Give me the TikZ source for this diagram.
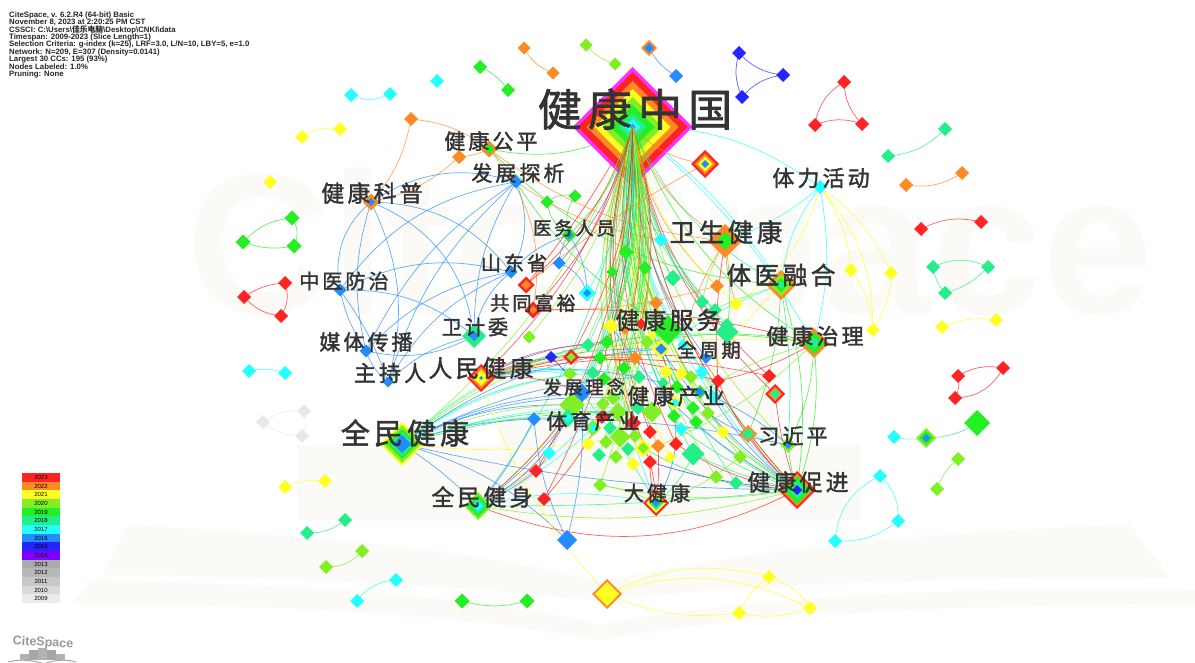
\documentclass[tikz,border=0pt]{standalone}
\usepackage{fontspec}
\setmainfont{Liberation Sans}
\newfontfamily\cjk{Noto Sans CJK SC}
\newfontfamily\cjklab[FakeBold=1.6,LetterSpace=14]{Noto Sans CJK SC}
\usetikzlibrary{shapes.geometric,backgrounds}
\pgfdeclarelayer{wm}
\pgfsetlayers{wm,background,main}
\definecolor{yA}{HTML}{FF2424}
\definecolor{yB}{HTML}{FF8A24}
\definecolor{yC}{HTML}{FFFF24}
\definecolor{yD}{HTML}{80F024}
\definecolor{yE}{HTML}{24EE24}
\definecolor{yF}{HTML}{24EE8C}
\definecolor{yG}{HTML}{24FFFF}
\definecolor{yH}{HTML}{248CFF}
\definecolor{yI}{HTML}{2424FF}
\definecolor{yJ}{HTML}{FF30FF}
\definecolor{yK}{HTML}{8000FF}
\definecolor{gA}{HTML}{E8E8E8}
\definecolor{wmc}{HTML}{FCFAF6}
\tikzset{
  dm/.style={diamond,aspect=1,inner sep=0pt,outer sep=0pt,draw=none,fill=#1},
  edg/.style={draw=#1,line width=0.7pt,opacity=0.72},
  lab/.style={inner sep=0pt,text=black!80,font=\cjklab},
  hdr/.style={inner sep=0pt,anchor=west,font=\fontsize{7.8}{8}\selectfont\bfseries,text=black!85},
  swt/.style={inner sep=0pt,outer sep=0pt,minimum width=38pt,minimum height=8.7pt,fill=#1,font=\fontsize{6}{6}\selectfont,text=black}
}
\def\kk{1}
% name, x, y, rings r/colour from the outside in
\newcommand{\nd}[4]{\coordinate (#1) at (#2,#3);
  \foreach \rr/\cc [count=\ii] in {#4}{\node[dm=\cc,minimum width={2*\rr*\kk pt},minimum height={2*\rr*\kk pt}] (#1-\ii) at (#2,#3) {};}}
\newcommand{\ed}[4]{\draw[edg=#4] (#1) to[#3] (#2);}
\newcommand{\lb}[5]{\pgfmathsetmacro{\fsz}{#4*0.88}\node[lab] (#1) at (#2,#3) {\fontsize{\fsz}{#4}\selectfont #5};}
\newcommand{\fanR}{\foreach \t/\c in {wsjk/yB,sa/yB,tyrh/yF,jkzl/yE,jkcj/yE,jkcj/yA,sb/yA,sc/yA,xjp/yF,sd2/yD,djk/yG,ca/yG,ce/yF,cf/yB,cg/yB,ch/yF,ci/yC,cj/yF,co/yF,cp/yF,cn/yE,cs/yD,cu/yC,cv/yG,db/yH,dc/yG,dd/yC,de/yC,df/yD,dg/yA,dh/yF,dj/yF,dk/yE,dl/yE,dm2/yG,ds/yF,dt/yD,du/yC,dv/yE,dw/yE,dx/yD,dy/yE,eh/yA,ei/yG,ej/yC,en/yC,eo/yB,ep/yA,et/yC,eu/yF,ev/yA,ex/yD,fb/yD,fc/yF,ec/yA,eg/yD,em/yF,ew/yC}
  {\draw[edg=\c] (hub) to[bend right=18] (\t);}}
\newcommand{\fanL}{\foreach \t/\c in {ywry/yE,cb/yE,cc/yE,cd/yE,sg/yG,sf/yA,gtfy/yA,se/yH,ck/yC,cl/yA,cm/yB,cq/yF,cr/yE,cw/yE,cx/yB,cy/yE,cz/yF,da/yD,di/yE,dn/yH,do/yD,dp/yD,dq/yD,dr/yD,ea/yF,eb/yA,ed2/yD,ee/yF,ef/yD,ek/yC,el/yD,eq/yG,er/yF,es/yD,ey/yA,ez/yD,fa/yA,sj/yD,sl/yA,qmjs/yF,rmjk/yA,qmjk/yD}
  {\draw[edg=\c] (hub) to[bend left=14] (\t);}}
\begin{document}
\begin{tikzpicture}[x=1pt,y=-1pt]
\useasboundingbox (0,0) rectangle (1195,663);
\begin{pgfonlayer}{wm}
\fill[white] (0,0) rectangle (1195,663);
\node[inner sep=0pt,text=wmc] (wmtext) at (670,262) {\fontsize{200}{200}\selectfont\bfseries CiteSpace};
\fill[wmc] (297,445) rectangle (860,520);
\fill[wmc] (500,378) rectangle (775,445);
\fill[wmc] (103,575) -- (128,525) .. controls (300,535) and (480,550) .. (600,582) .. controls (750,550) and (950,530) .. (1130,525) -- (1170,578) .. controls (950,575) and (750,585) .. (600,600) .. controls (450,585) and (250,575) .. (103,575) -- cycle;
\fill[wmc] (72,604) -- (92,580) .. controls (300,585) and (480,595) .. (600,625) .. controls (750,595) and (1000,585) .. (1195,590) -- (1195,604) .. controls (1000,605) and (750,610) .. (600,640) .. controls (450,610) and (250,605) .. (72,604) -- cycle;
\end{pgfonlayer}

% ---- header
\node[hdr] (h1) at (9,15) {CiteSpace, v. 6.2.R4 (64-bit) Basic};
\node[hdr] (h2) at (9,22.4) {November 8, 2023 at 2:20:25 PM CST};
\node[hdr] (h3) at (9,29.8) {CSSCI: C:\textbackslash Users\textbackslash{\cjk 佳乐电脑}\textbackslash Desktop\textbackslash CNKI\textbackslash data};
\node[hdr] (h4) at (9,37.2) {Timespan: 2009-2023 (Slice Length=1)};
\node[hdr] (h5) at (9,44.6) {Selection Criteria: g-index (k=25), LRF=3.0, L/N=10, LBY=5, e=1.0};
\node[hdr] (h6) at (9,52) {Network: N=209, E=307 (Density=0.0141)};
\node[hdr] (h7) at (9,59.4) {Largest 30 CCs: 195 (93\%)};
\node[hdr] (h8) at (9,66.8) {Nodes Labeled: 1.0\%};
\node[hdr] (h9) at (9,74.2) {Pruning: None};

% ---- legend
\foreach \yr/\cc [count=\i] in {2023/yA,2022/yB,2021/yC,2020/yD,2019/yE,2018/yF,2017/yG,2016/yH,2015/yI,2014/yK,2013/black!33,2012/black!28,2011/black!22,2010/black!15,2009/black!8}
  \node[swt=\cc] (leg\i) at (41,{473+8.67*(\i-0.5)}) {\yr};

% ---- logo
\node[inner sep=0pt,text=black!40,rotate=-3] (logo) at (43,643) {\fontsize{12.5}{13}\selectfont\bfseries CiteSpace};
\fill[black!30] (20,654) rectangle (29,660);
\fill[black!35] (29,650) rectangle (38,660);
\fill[black!30] (38,648) rectangle (47,660);
\fill[black!35] (47,650) rectangle (56,660);
\fill[black!30] (56,654) rectangle (65,660);
\draw[black!35,line width=1pt] (8,662) .. controls (20,659) and (30,660) .. (42,663);
\draw[black!35,line width=1pt] (46,663) .. controls (56,660) and (66,659) .. (76,662);

% ---- peripheral nodes
\nd{pa}{524}{48}{6.5/yB} \nd{pb}{553}{73}{6.5/yB}
\nd{pc}{586}{45}{6.5/yD} \nd{pd}{615}{64}{6.5/yD}
\nd{pe}{649}{48}{8/yB,5/yH} \nd{pf}{676}{76}{7/yH}
\nd{pg}{739}{53}{7/yI} \nd{ph}{783}{75}{7/yI} \nd{pi}{742}{97}{7/yI}
\nd{pj}{844}{82}{7/yA} \nd{pk}{862}{124}{7/yA} \nd{pl}{815}{125}{7/yA}
\nd{pm}{945}{129}{7/yF} \nd{pn}{888}{156}{7/yF}
\nd{po}{962}{173}{7/yB} \nd{pp}{906}{185}{7/yB}
\nd{pq}{981}{222}{7/yA} \nd{pr}{921}{229}{7/yA}
\nd{ps}{988}{267}{7/yF} \nd{pt}{933}{267}{7/yF} \nd{pu}{945}{293}{7/yF}
\nd{pv}{996}{320}{7/yC} \nd{pw}{942}{327}{7/yC}
\nd{px}{958}{376}{7/yA} \nd{py}{1003}{368}{7/yA} \nd{pz}{955}{398}{7/yA}
\nd{qa}{977}{423}{13/yE} \nd{qb}{926}{438}{10/yD,7/yE,4/yH} \nd{qc}{894}{437}{7/yG}
\nd{qd}{958}{459}{7/yD} \nd{qe}{937}{489}{7/yD}
\nd{qf}{880}{476}{7/yG} \nd{qg}{898}{521}{7/yG} \nd{qh}{835}{541}{7/yG}
\nd{big}{607}{594}{15/yB,12/yC} \nd{qi}{769}{577}{7/yC} \nd{qj}{810}{608}{7/yC} \nd{qk}{739}{613}{7/yC}
\nd{ql}{462}{601}{7.5/yE} \nd{qm}{527}{601}{7.5/yE}
\nd{qn}{396}{580}{7/yG} \nd{qo}{357}{601}{7/yG}
\nd{qp}{362}{551}{7/yD} \nd{qq}{326}{567}{7/yD}
\nd{qr}{345}{520}{7/yF} \nd{qs}{307}{533}{7/yF}
\nd{qt}{325}{481}{7/yC} \nd{qu}{285}{487}{7/yC}
\nd{qv}{304}{411}{7/gA} \nd{qw}{302}{436}{7/gA} \nd{qx}{263}{422}{7/gA}
\nd{qy}{285}{373}{7/yG} \nd{qz}{249}{371}{7/yG}
\nd{ra}{244}{297}{7/yA} \nd{rb}{281}{316}{7/yA} \nd{rc}{285}{283}{7/yA}
\nd{rd}{292}{218}{7.5/yE} \nd{re}{294}{246}{7.5/yE} \nd{rf}{243}{242}{7.5/yE}
\nd{rg}{270}{182}{7/yC}
\nd{rh}{302}{137}{7/yC} \nd{ri}{340}{129}{7/yC}
\nd{rj}{351}{95}{7/yG} \nd{rk}{390}{94}{7/yG}
\nd{rl}{437}{81}{7/yG}
\nd{rm}{480}{67}{7/yE} \nd{rn}{508}{90}{7/yE}
\nd{ro}{411}{119}{7/yB} \nd{rp}{459}{157}{7/yB}

% ---- main nodes
\nd{hub}{632.5}{127}{60/yJ,55/yA,46/yB,38/yC,30/yD,22/yE,14/yF,8/yG,3/yH}
\nd{wsjk}{725}{241}{17/yB,9/yE}
\nd{sa}{705}{164}{14/yA,10.5/yB,7.5/yC,4/yH}
\nd{tlhd}{820}{187}{7/yG}
\nd{tyrh}{781}{285}{15/yB,11/yD,7/yE,4/yF}
\nd{jkzl}{814}{343}{15/yB,11/yE,6/yF}
\nd{sb}{775}{394}{10/yA,7/yB,5/yF}
\nd{sc}{769}{376}{7/yA}
\nd{xjp}{748}{434}{9/yB,6/yF}
\nd{sd2}{788}{445}{8/yD,4/yH}
\nd{jkcj}{797}{490}{19/yA,16/yB,14/yE,9/yF,5/yI}
\nd{djk}{656}{503}{13/yA,10/yC,7/yF,4/yH}
\nd{qmjs}{478}{506}{14/yD,11/yE,8/yF,5/yG}
\nd{qmjk}{402}{444}{22/yC,19/yD,15/yE,12/yF,9/yH}
\nd{rmjk}{481}{378}{14/yA,11/yB,8/yC,2/yH}
\nd{wjw}{474}{336}{12/yF,5/yH}
\nd{zcr}{388}{382}{5.5/yH}
\nd{mtcb}{366}{351}{6.5/yH}
\nd{zyfz}{340}{290}{6.5/yH}
\nd{jkkp}{371}{202}{8.5/yB,4/yH}
\nd{jkgp}{489}{149}{8.5/yB,5/yE}
\nd{fzfx}{516}{182}{6.5/yH}
\nd{ywry}{569}{235}{7.5/yE,4/yH}
\nd{sdsh}{511}{272}{6.5/yH}
\nd{se}{559}{263}{6.5/yH}
\nd{sf}{526}{285}{8.5/yA,5/yB}
\nd{gtfy}{533}{310}{8.5/yA,4/yB}
\nd{sg}{587}{293}{8.5/yG,4/yH}
\nd{sh}{547}{202}{6.5/yE}
\nd{si}{575}{196}{6.5/yE}
\nd{sj}{529}{337}{6.5/yD}
\nd{sk}{551}{357}{6/yI}
\nd{sl}{571}{357}{8/yA,4.5/yD}
\nd{bigb}{567}{540}{10/yH}

\def\kk{1.15}
\nd{ca}{661}{240}{6/yG} \nd{cb}{626}{252}{6.5/yE} \nd{cc}{645}{268}{6/yE} \nd{cd}{612}{272}{5/yE} \nd{ce}{673}{278}{7/yF}
\nd{cf}{717}{286}{6/yB} \nd{cg}{656}{303}{6/yB} \nd{ch}{702}{302}{6/yF} \nd{ci}{736}{304}{6/yC} \nd{cj}{715}{310}{6/yF}
\nd{ck}{611}{326}{7/yC} \nd{cl}{641}{324}{5/yA} \nd{cm}{625}{330}{4/yB} \nd{cn}{668}{330}{13/yE} \nd{co}{727}{325}{6/yF} \nd{cp}{727}{332}{10/yF}
\nd{cq}{588}{345}{6/yF} \nd{cr}{607}{342}{6/yE} \nd{cs}{647}{342}{6/yD} \nd{ct}{652}{335}{4/yC} \nd{cu}{661}{349}{8/yC,5/yH} \nd{cv}{683}{345}{5/yG}
\nd{cw}{600}{358}{6/yE} \nd{cx}{635}{358}{6/yB} \nd{cy}{624}{368}{6/yE} \nd{cz}{593}{373}{6/yF} \nd{da}{570}{374}{6/yD}
\nd{db}{706}{358}{5/yH} \nd{dc}{702}{372}{6/yG} \nd{dd}{666}{372}{6/yC} \nd{de}{681}{374}{6/yC} \nd{df}{691}{377}{6/yD} \nd{dg}{718}{381}{6/yA}
\nd{dh}{639}{377}{6/yF} \nd{di}{604}{379}{6/yE} \nd{dj}{663}{383}{5/yF} \nd{dk}{677}{387}{6/yE} \nd{dl}{700}{392}{6/yE,4/yH} \nd{dm2}{713}{397}{6/yG}
\nd{dn}{582}{393}{8/yH} \nd{do}{572}{405}{11/yD} \nd{dp}{603}{404}{6/yD} \nd{dq}{613}{398}{6/yD} \nd{dr}{618}{412}{8/yD} \nd{ds}{638}{408}{6/yF} \nd{dt}{652}{412}{9/yD}
\nd{du}{675}{403}{7/yC,4/yG} \nd{dv}{674}{416}{6/yE} \nd{dw}{693}{408}{6/yE} \nd{dx}{708}{413}{6/yD} \nd{dy}{696}{422}{6/yE}
\nd{dz}{534}{419}{6/yH} \nd{ea}{568}{418}{8/yF,4/yG} \nd{eb}{602}{417}{6/yA} \nd{ec}{633}{423}{7/yA} \nd{ed2}{593}{428}{7/yD,4/yG} \nd{ee}{610}{428}{6/yF}
\nd{ef}{620}{437}{9/yD} \nd{eg}{635}{436}{6/yD} \nd{eh}{650}{432}{6/yA} \nd{ei}{681}{429}{6/yG} \nd{ej}{723}{432}{6/yC}
\nd{ek}{588}{444}{6/yC} \nd{el}{606}{442}{6/yD} \nd{em}{628}{449}{6/yF} \nd{en}{643}{448}{8/yC,5/yD} \nd{eo}{658}{446}{6/yB} \nd{ep}{676}{444}{6/yA}
\nd{eq}{549}{453}{6/yG} \nd{er}{599}{455}{6/yF} \nd{es}{616}{457}{6/yD} \nd{et}{670}{457}{5/yC} \nd{eu}{693}{454}{10/yF} \nd{ev}{650}{462}{6/yA} \nd{ew}{633}{464}{6/yC} \nd{ex}{740}{457}{6/yD}
\nd{ey}{536}{471}{6/yA} \nd{ez}{600}{485}{6/yD} \nd{fa}{544}{499}{6/yA} \nd{fb}{716}{477}{6/yD} \nd{fc}{736}{483}{6/yF}
\nd{fd}{851}{270}{6/yC} \nd{fe}{891}{273}{6/yC} \nd{ff}{873}{330}{6/yC}

% ---- rays of the fan seen through the large node
\begin{scope}[opacity=0.28]
\clip (632.5,67) -- (692.5,127) -- (632.5,187) -- (572.5,127) -- cycle;
\fanR \fanL
\end{scope}

% ---- edges
\begin{pgfonlayer}{background}
% periphery
\ed{pa}{pb}{bend right=20}{yB}
\ed{pc}{pd}{bend right=15}{yD}
\ed{pe}{pf}{bend right=15}{yH}
\ed{pg}{ph}{bend right=20}{yI} \ed{ph}{pi}{bend right=20}{yI} \ed{pi}{pg}{bend left=20}{yI}
\ed{pj}{pk}{bend right=20}{yA} \ed{pk}{pl}{bend right=20}{yA} \ed{pl}{pj}{bend left=25}{yA}
\ed{pm}{pn}{bend left=20}{yF}
\ed{po}{pp}{bend left=20}{yB}
\ed{pq}{pr}{bend right=20}{yA}
\ed{ps}{pt}{bend right=25}{yF} \ed{pt}{pu}{bend right=15}{yF} \ed{pu}{ps}{bend right=15}{yF}
\ed{pv}{pw}{bend right=15}{yC}
\ed{px}{py}{bend left=20}{yA} \ed{py}{pz}{bend left=30}{yA} \ed{pz}{px}{bend right=20}{yA}
\ed{qa}{qb}{bend left=15}{yF} \ed{qb}{qc}{bend left=10}{yG}
\ed{qd}{qe}{bend right=15}{yD}
\ed{qf}{qg}{bend left=25}{yG} \ed{qg}{qh}{bend left=20}{yG} \ed{qh}{qf}{bend left=30}{yG}
\ed{big}{qi}{bend left=20}{yC} \ed{big}{qj}{bend left=22}{yC} \ed{big}{qk}{bend right=15}{yC}
\ed{qi}{qj}{bend left=20}{yC} \ed{qj}{qk}{bend left=15}{yC} \ed{qk}{qi}{bend left=15}{yC}
\ed{ql}{qm}{bend right=15}{yE}
\ed{qn}{qo}{bend right=25}{yG}
\ed{qp}{qq}{bend left=25}{yD}
\ed{qr}{qs}{bend left=20}{yF}
\ed{qt}{qu}{bend right=15}{yC}
\ed{qv}{qw}{bend left=25}{gA} \ed{qw}{qx}{bend left=20}{gA} \ed{qx}{qv}{bend left=20}{gA}
\ed{qy}{qz}{bend right=15}{yG}
\ed{ra}{rb}{bend right=20}{yA} \ed{rb}{rc}{bend right=25}{yA} \ed{rc}{ra}{bend right=15}{yA}
\ed{rd}{re}{bend left=30}{yE} \ed{re}{rf}{bend left=15}{yE} \ed{rf}{rd}{bend left=20}{yE}
\ed{rh}{ri}{bend left=20}{yC}
\ed{rj}{rk}{bend right=25}{yG}
\ed{rm}{rn}{bend left=15}{yE}
\ed{ro}{jkkp}{bend left=15}{yB} \ed{ro}{jkgp}{bend left=15}{yB}
\ed{rp}{jkkp}{bend left=15}{yB} \ed{rp}{jkgp}{bend right=10}{yB}
% blue mesh on the left
\ed{jkkp}{fzfx}{bend left=25}{yH} \ed{jkkp}{wjw}{bend left=30}{yH} \ed{jkkp}{zyfz}{bend right=30}{yH}
\ed{jkkp}{mtcb}{bend right=15}{yH} \ed{jkkp}{zcr}{bend left=20}{yH} \ed{jkkp}{sdsh}{bend left=25}{yH}
\ed{zyfz}{sdsh}{bend left=20}{yH} \ed{zyfz}{wjw}{bend left=20}{yH} \ed{zyfz}{fzfx}{bend left=22}{yH}
\ed{zyfz}{mtcb}{bend right=10}{yH} \ed{zyfz}{zcr}{bend left=8}{yH}
\ed{mtcb}{fzfx}{bend left=15}{yH} \ed{zcr}{fzfx}{bend left=15}{yH} \ed{mtcb}{sdsh}{bend left=18}{yH}
\ed{zcr}{sdsh}{bend left=18}{yH} \ed{mtcb}{wjw}{bend right=20}{yH} \ed{zcr}{wjw}{bend left=15}{yH}
\ed{mtcb}{zcr}{bend right=15}{yH} \ed{wjw}{sdsh}{bend left=20}{yH} \ed{wjw}{fzfx}{bend left=15}{yH}
\ed{sdsh}{fzfx}{bend right=25}{yH}
% hub fan
\fanR \fanL
\ed{jkgp}{hub}{bend right=20}{yE}
\ed{sa}{sf}{bend right=5}{yB}
\ed{jkgp}{wsjk}{bend right=15}{yB}
\ed{jkgp}{gtfy}{bend left=25}{yB}
\ed{jkgp}{tyrh}{bend right=20}{yE}
\ed{fzfx}{ca}{bend right=12}{yB}
\ed{fzfx}{cn}{bend right=12}{yE}
\ed{sh}{si}{bend left=25}{yE} \ed{sh}{ywry}{bend right=25}{yE} \ed{si}{ywry}{bend right=25}{yE}
\ed{ywry}{sg}{bend left=15}{yH} \ed{ywry}{se}{bend right=15}{yH} \ed{se}{sg}{bend left=25}{yH} \ed{ywry}{sdsh}{bend right=15}{yH}
\ed{sf}{hub}{bend right=5}{yA}
\ed{gtfy}{cf}{bend right=8}{yB}
\ed{gtfy}{jkzl}{bend left=8}{yA}
% hub to the right
\ed{hub}{tlhd}{bend left=18}{yG}
\ed{hub}{tyrh}{bend left=10}{yG}
\ed{hub}{jkzl}{bend left=10}{yG}
\ed{tlhd}{fd}{bend left=15}{yC} \ed{tlhd}{fe}{bend left=15}{yC} \ed{tlhd}{ff}{bend left=20}{yC}
\ed{tlhd}{tyrh}{bend right=15}{yG} \ed{tlhd}{jkzl}{bend left=12}{yG} \ed{tlhd}{wsjk}{bend left=10}{yG} \ed{tlhd}{ci}{bend left=20}{yC}
\ed{fd}{ff}{bend left=15}{yC} \ed{fe}{ff}{bend left=15}{yC}
% people's health and national fitness
\foreach \t/\c/\b in {dn/yH/12,do/yH/14,da/yG/12,cq/yG/14,cr/yD/14,ea/yG/10,dp/yD/12,dr/yE/10,dt/yE/8,dh/yH/12,dq/yH/14,dz/yH/8,cz/yF/16,ds/yG/10,cs/yD/16,cu/yH/16}
  {\draw[edg=\c] (qmjk) to[bend left=\b] (\t);}
\foreach \t/\c/\b in {dn/yA/14,cq/yH/14,cr/yA/12,cz/yG/12,da/yG/10,cw/yA/14,cx/yB/10,dj/yH/12,db/yA/10,cu/yH/10,sc/yA/12,dg/yG/8,jkzl/yC/10,jkzl/yE/14}
  {\draw[edg=\c] (rmjk) to[bend left=\b] (\t);}
\ed{qmjk}{bigb}{bend left=14}{yH}
\ed{qmjk}{qmjs}{bend left=6}{yH}
\ed{qmjk}{ef}{bend right=8}{yC}
\ed{qmjk}{jkcj}{bend right=6}{yH}
\ed{bigb}{dz}{bend left=10}{yH}
\ed{bigb}{dn}{bend right=8}{yH}
\ed{qmjs}{jkcj}{bend right=24}{yA}
\ed{qmjs}{jkcj}{bend right=12}{yD}
\ed{qmjs}{djk}{bend left=12}{yG}
\ed{qmjs}{jkcj}{bend right=3}{yF}
\foreach \t/\c/\b in {ey/yA/6,eq/yG/6,dz/yH/6,ea/yH/8,ed2/yG/8,do/yD/8,dn/yA/8,dp/yG/10}
  {\draw[edg=\c] (qmjs) to[bend right=\b] (\t);}
\ed{ey}{eq}{bend right=5}{yA} \ed{fa}{eb}{bend right=6}{yA} \ed{qmjs}{ea}{bend right=15}{yA}
\ed{big}{rmjk}{bend left=12}{yC}
% lower right hubs
\foreach \t/\c/\b in {dy/yF/10,dx/yD/8,dm2/yH/10,dg/yA/12,sb/yA/6,cu/yH/10,ei/yF/8,ev/yI/6,ez/yD/10,eu/yF/6,ep/yA/12,dc/yG/10,dd/yE/10,ex/yD/5,en/yE/14,ck/yH/14}
  {\draw[edg=\c] (jkcj) to[bend left=\b] (\t);}
\ed{jkcj}{jkzl}{bend right=12}{yE} \ed{jkcj}{tyrh}{bend right=12}{yE} \ed{jkcj}{xjp}{bend left=6}{yA} \ed{jkcj}{sd2}{bend left=5}{yE}
\ed{djk}{dn}{bend right=4}{yF} \ed{djk}{eu}{bend right=14}{yF} \ed{djk}{ev}{bend left=8}{yA} \ed{djk}{eo}{bend right=5}{yA} \ed{djk}{ex}{bend right=10}{yD} \ed{djk}{ep}{bend right=10}{yH} \ed{djk}{ez}{bend right=8}{yD}
\ed{jkzl}{cs}{bend right=10}{yE} \ed{jkzl}{eo}{bend left=10}{yD} \ed{jkzl}{dl}{bend right=8}{yD} \ed{jkzl}{sd2}{bend left=12}{yE}
\ed{tyrh}{xjp}{bend left=10}{yE} \ed{tyrh}{sd2}{bend left=6}{yF} \ed{tyrh}{dw}{bend right=10}{yC} \ed{tyrh}{cx}{bend right=10}{yD} \ed{tyrh}{cu}{bend right=8}{yG}
\ed{xjp}{sd2}{bend right=5}{yF} \ed{xjp}{dx}{bend left=8}{yH} \ed{sd2}{dm2}{bend right=8}{yH} \ed{sd2}{dz}{bend right=6}{yH}
\ed{wsjk}{cv}{bend right=10}{yB} \ed{wsjk}{ch}{bend right=8}{yD} \ed{wsjk}{cp}{bend left=8}{yE} \ed{wsjk}{dg}{bend right=6}{yA} \ed{wsjk}{ci}{bend right=8}{yB}
\ed{sk}{dn}{bend left=5}{yI} \ed{sl}{dg}{bend left=7}{yA} \ed{cu}{ep}{bend left=8}{yA} \ed{dg}{jkzl}{bend right=8}{yA}
\ed{ev}{djk}{bend left=5}{yA}
\end{pgfonlayer}

% ---- labels
\lb{L1}{635}{109}{50}{健康中国}
\lb{L2}{491}{141}{24}{健康公平}
\lb{L3}{518}{173}{24}{发展探析}
\lb{L4}{372}{193}{26}{健康科普}
\lb{L5}{821}{178}{25}{体力活动}
\lb{L6}{726}{232}{29}{卫生健康}
\lb{L7}{574}{228}{21}{医务人员}
\lb{L8}{514}{263}{23}{山东省}
\lb{L9}{781}{275}{28}{体医融合}
\lb{L10}{344}{281}{23}{中医防治}
\lb{L11}{533}{303}{22}{共同富裕}
\lb{L12}{668}{320}{27}{健康服务}
\lb{L13}{475}{327}{23}{卫计委}
\lb{L14}{815}{336}{25}{健康治理}
\lb{L15}{366}{342}{24}{媒体传播}
\lb{L16}{709}{350}{22}{全周期}
\lb{L17}{390}{373}{25}{主持人}
\lb{L18}{481}{368}{27}{人民健康}
\lb{L19}{584}{387}{21}{发展理念}
\lb{L20}{676}{396}{25}{健康产业}
\lb{L21}{593}{421}{24}{体育产业}
\lb{L22}{405}{433}{33}{全民健康}
\lb{L23}{793}{436}{24}{习近平}
\lb{L24}{798}{482}{26}{健康促进}
\lb{L25}{482}{497}{26}{全民健身}
\lb{L26}{657}{493}{23}{大健康}
\end{tikzpicture}
\end{document}
